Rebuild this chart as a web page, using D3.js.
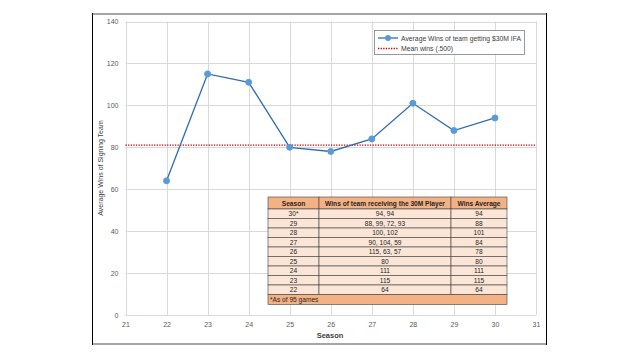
<!DOCTYPE html>
<html><head><meta charset="utf-8">
<script src="https://cdn.jsdelivr.net/npm/d3@7"></script>
<style>body{margin:0;background:#fff}svg{display:block}</style>
</head><body><svg width="640" height="360"></svg>
<script>
const seasons = [22,23,24,25,26,27,28,29,30];
const avgWins = [64,115,111,80,78,84,101,88,94];
const meanWins = 81;
const xTicks = [21,22,23,24,25,26,27,28,29,30,31];
const yTicks = [0,20,40,60,80,100,120,140];
const tableHeader = ["Season","Wins of team receiving the 30M Player","Wins Average"];
const tableSeason = ["30*","29","28","27","26","25","24","23","22"];
const tableWins = ["94, 94","88, 99, 72, 93","100, 102","90, 104, 59","115, 63, 57","80","111","115","64"];
const tableAvg = ["94","88","101","84","78","80","111","115","64"];
const tableNote = "*As of 95 games";
const legendLabels = ["Average Wins of team getting $30M IFA","Mean wins (.500)"];

const svg = d3.select("svg");
const font = "Liberation Sans, Arial, sans-serif";
// frame
svg.append("rect").attr("x",92).attr("y",14).attr("width",455).attr("height",330).attr("fill","#fff");
svg.append("line").attr("x1",92).attr("x2",547).attr("y1",14).attr("y2",14).attr("stroke","#a6a6a6").attr("stroke-width",2);
svg.append("line").attr("x1",92).attr("x2",547).attr("y1",344).attr("y2",344).attr("stroke","#a6a6a6").attr("stroke-width",2);
svg.append("line").attr("x1",92.5).attr("x2",92.5).attr("y1",13).attr("y2",345).attr("stroke","#000");
svg.append("line").attr("x1",546.5).attr("x2",546.5).attr("y1",13).attr("y2",345).attr("stroke","#000");

const x = d3.scaleLinear().domain([21,31]).range([125.5,536]);
const y = d3.scaleLinear().domain([0,140]).range([315,21.5]);

// grid
const g = svg.append("g");
g.selectAll(".hg").data(yTicks).join("line")
  .attr("x1",x(21)).attr("x2",x(31)).attr("y1",d=>Math.round(y(d))+0.5).attr("y2",d=>Math.round(y(d))+0.5)
  .attr("stroke","#d9d9d9").attr("stroke-width",1);
g.selectAll(".vg").data(xTicks).join("line")
  .attr("y1",y(0)).attr("y2",y(140)).attr("x1",d=>Math.round(x(d))+0.5).attr("x2",d=>Math.round(x(d))+0.5)
  .attr("stroke","#d9d9d9").attr("stroke-width",1);

// axes labels
const yAxis = d3.axisLeft(y).tickValues(yTicks).tickSize(0).tickPadding(7);
const ya = svg.append("g").attr("transform",`translate(${x(21)},0)`).call(yAxis);
ya.select(".domain").remove();
ya.selectAll("text").attr("font-family",font).attr("font-size",7).attr("fill","#595959");
const xAxis = d3.axisBottom(x).tickValues(xTicks).tickSize(0).tickPadding(7).tickFormat(d3.format("d"));
const xa = svg.append("g").attr("transform",`translate(0,${y(0)})`).call(xAxis);
xa.select(".domain").remove();
xa.selectAll("text").attr("font-family",font).attr("font-size",7).attr("fill","#595959");

svg.append("text").attr("x",330).attr("y",338).attr("text-anchor","middle").attr("font-family",font)
  .attr("font-size",7.5).attr("font-weight","bold").attr("fill","#404040").text("Season");
svg.append("text").attr("transform","translate(103,168) rotate(-90)").attr("text-anchor","middle").attr("font-family",font)
  .attr("font-size",7).attr("fill","#404040").text("Average Wins of Signing Team");

// mean line
svg.append("line").attr("x1",x(21)).attr("x2",x(31)).attr("y1",y(meanWins)).attr("y2",y(meanWins))
  .attr("stroke","#c00000").attr("stroke-width",1.3).attr("stroke-dasharray","1.3,1.3");

// series
const pts = seasons.map((s,i)=>[s,avgWins[i]]);
svg.append("path").datum(pts).attr("fill","none").attr("stroke","#2e6db4").attr("stroke-width",1.3)
  .attr("d",d3.line().x(d=>x(d[0])).y(d=>y(d[1])));
svg.selectAll(".pt").data(pts).join("circle").attr("cx",d=>x(d[0])).attr("cy",d=>y(d[1])).attr("r",3)
  .attr("fill","#5b9bd5").attr("stroke","#5b9bd5");

// legend
const lg = svg.append("g");
lg.append("rect").attr("x",374.5).attr("y",30.5).attr("width",150).attr("height",24).attr("fill","#fff").attr("stroke","#7f7f7f").attr("stroke-width",0.8);
lg.append("line").attr("x1",378).attr("x2",398).attr("y1",38).attr("y2",38).attr("stroke","#2e6db4").attr("stroke-width",1.3);
lg.append("circle").attr("cx",388).attr("cy",38).attr("r",3).attr("fill","#5b9bd5");
lg.append("text").attr("x",401).attr("y",40.5).attr("font-family",font).attr("font-size",6.8).attr("fill","#404040").text(legendLabels[0]);
lg.append("line").attr("x1",378).attr("x2",398).attr("y1",48.5).attr("y2",48.5).attr("stroke","#c00000").attr("stroke-width",1.3).attr("stroke-dasharray","1.3,1.3");
lg.append("text").attr("x",401).attr("y",51).attr("font-family",font).attr("font-size",6.8).attr("fill","#404040").text(legendLabels[1]);

// table
const tx = [268,319,451,507];
const ty0 = 197, hh = 12, rh = 9.5;
const t = svg.append("g");
const cellText = (cx, cy, s, bold) => t.append("text").attr("x",cx).attr("y",cy).attr("text-anchor","middle")
  .attr("font-family",font).attr("font-size",6.6).attr("font-weight",bold?"bold":"normal").attr("fill","#262626").text(s);
// header
for (let c=0;c<3;c++){
  t.append("rect").attr("x",tx[c]).attr("y",ty0).attr("width",tx[c+1]-tx[c]).attr("height",hh)
    .attr("fill","#f4b183").attr("stroke","#404040").attr("stroke-width",0.6);
  cellText((tx[c]+tx[c+1])/2, ty0+8.5, tableHeader[c], true);
}
tableSeason.forEach((s,i)=>{
  const ry = ty0+hh+i*rh;
  const vals=[s,tableWins[i],tableAvg[i]];
  for (let c=0;c<3;c++){
    t.append("rect").attr("x",tx[c]).attr("y",ry).attr("width",tx[c+1]-tx[c]).attr("height",rh)
      .attr("fill","#fbe5d6").attr("stroke","#404040").attr("stroke-width",0.6);
    cellText((tx[c]+tx[c+1])/2, ry+7.2, vals[c], false);
  }
});
const fy = ty0+hh+tableSeason.length*rh;
t.append("rect").attr("x",tx[0]).attr("y",fy).attr("width",tx[3]-tx[0]).attr("height",10)
  .attr("fill","#f4b183").attr("stroke","#404040").attr("stroke-width",0.6);
t.append("text").attr("x",tx[0]+2).attr("y",fy+7.4).attr("font-family",font).attr("font-size",6.6).attr("fill","#262626").text(tableNote);
</script></body></html>
